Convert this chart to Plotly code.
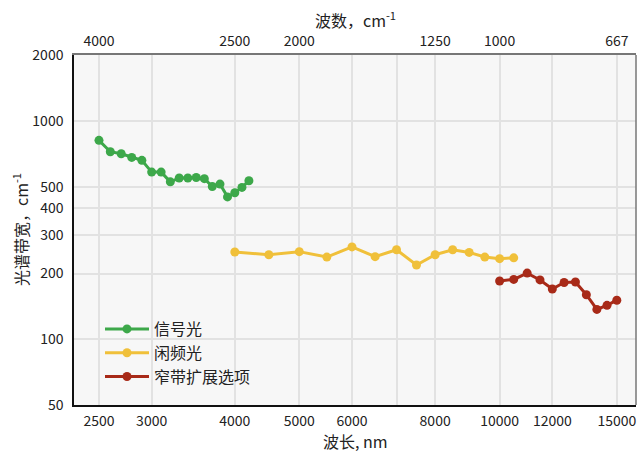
import plotly.graph_objects as go
import math

# Data
signal_wl = [2500, 2600, 2700, 2800, 2900, 3000, 3100, 3200, 3300, 3400, 3500, 3600, 3700, 3800, 3900, 4000, 4100, 4200]
signal_bw = [815, 723, 708, 681, 660, 583, 583, 526, 548, 548, 551, 544, 501, 514, 449, 469, 496, 532]

idler_wl = [4000, 4500, 5000, 5500, 6000, 6500, 7000, 7500, 8000, 8500, 9000, 9500, 10000, 10500]
idler_bw = [251, 244, 252, 238, 265, 239, 257, 219, 244, 257, 250, 238, 234, 236]

narrow_wl = [10000, 10500, 11000, 11500, 12000, 12500, 13000, 13500, 14000, 14500, 15000]
narrow_bw = [185, 188, 201, 187, 170, 182, 183, 160, 137, 143, 151]

x_tickvals = [2500, 3000, 4000, 5000, 6000, 7000, 8000, 10000, 12000, 15000]
x_ticktext = ["2500", "3000", "4000", "5000", "6000", "", "8000", "10000", "12000", "15000"]
top_tickvals = [2500, 4000, 5000, 8000, 10000, 15000]
top_ticktext = ["4000", "2500", "2000", "1250", "1000", "667"]
y_tickvals = [50, 100, 200, 300, 400, 500, 1000, 2000]

FONT = "Noto Sans CJK SC, Noto Sans, sans-serif"
series = [
    ("信号光", signal_wl, signal_bw, "#3DA84A"),
    ("闲频光", idler_wl, idler_bw, "#F0C03A"),
    ("窄带扩展选项", narrow_wl, narrow_bw, "#A82A18"),
]

fig = go.Figure()
for name, xs, ys, col in series:
    fig.add_trace(go.Scatter(x=xs, y=ys, name=name, mode="lines+markers",
                             line=dict(color=col, width=3),
                             marker=dict(color=col, size=9)))
# invisible trace to activate top axis
fig.add_trace(go.Scatter(x=[top_tickvals[0]], y=[signal_bw[0]], xaxis="x2",
                         mode="markers", marker=dict(opacity=0), showlegend=False,
                         hoverinfo="skip"))

xr = [math.log10(2293), math.log10(16030)]
yr = [math.log10(50), math.log10(2005)]

L, R, T, B = 74, 2, 55, 47
W, H = 638, 452
pw, ph = W - L - R, H - T - B


def px_x(p):
    return (p - L) / pw


def px_y(p):
    return ((H - B) - p) / ph


fig.update_layout(
    width=W, height=H,
    margin=dict(l=L, r=R, t=T, b=B, autoexpand=False),
    paper_bgcolor="white", plot_bgcolor="#F7F7F7",
    font=dict(family=FONT, size=14, color="#222"),
    xaxis=dict(type="log", range=xr, tickvals=x_tickvals, ticktext=x_ticktext,
               showgrid=True, gridcolor="#E2E2E2", gridwidth=1.5,
               showline=True, linecolor="#111", linewidth=1.5, ticks="",
               zeroline=False, automargin=False, ticklabelstandoff=2),
    xaxis2=dict(type="log", range=xr, overlaying="x", side="top",
                tickvals=top_tickvals, ticktext=top_ticktext,
                showgrid=False, showline=True, linecolor="#777", linewidth=1.5,
                ticks="", zeroline=False, automargin=False, ticklabelstandoff=2),
    yaxis=dict(type="log", range=yr, tickvals=y_tickvals,
               showgrid=True, gridcolor="#E2E2E2", gridwidth=1.5,
               showline=True, linecolor="#111", linewidth=1.5, ticks="",
               zeroline=False, ticklabelstandoff=6, automargin=False),
    legend=dict(x=px_x(100), y=px_y(312), xanchor="left", yanchor="top",
                bgcolor="rgba(0,0,0,0)", font=dict(size=16, color="#222"),
                tracegroupgap=0, itemwidth=44),
    shapes=[
        dict(type="line", xref="paper", yref="paper", x0=1, x1=1, y0=0, y1=1,
             line=dict(color="#777", width=1.5)),
        dict(type="rect", xref="paper", yref="paper", layer="between",
             x0=px_x(83), x1=px_x(331), y0=px_y(395), y1=px_y(307),
             fillcolor="#F7F7F7", line=dict(width=0)),
    ],
    annotations=[
        dict(text="波长, nm", xref="paper", yref="paper", x=0.5, y=px_y(441),
             xanchor="center", yanchor="middle", showarrow=False, font=dict(size=16)),
        dict(text="波数，cm<sup>-1</sup>", xref="paper", yref="paper", x=0.5, y=px_y(20),
             xanchor="center", yanchor="middle", showarrow=False, font=dict(size=16)),
        dict(text="光谱带宽，cm<sup>-1</sup>", xref="paper", yref="paper", x=px_x(20), y=0.5,
             xanchor="center", yanchor="middle", showarrow=False, textangle=-90,
             font=dict(size=16)),
    ],
    showlegend=True,
)

fig.write_html("out.html", config={"displayModeBar": False},
               post_script="document.body.style.margin='0';document.body.style.overflow='hidden';")
